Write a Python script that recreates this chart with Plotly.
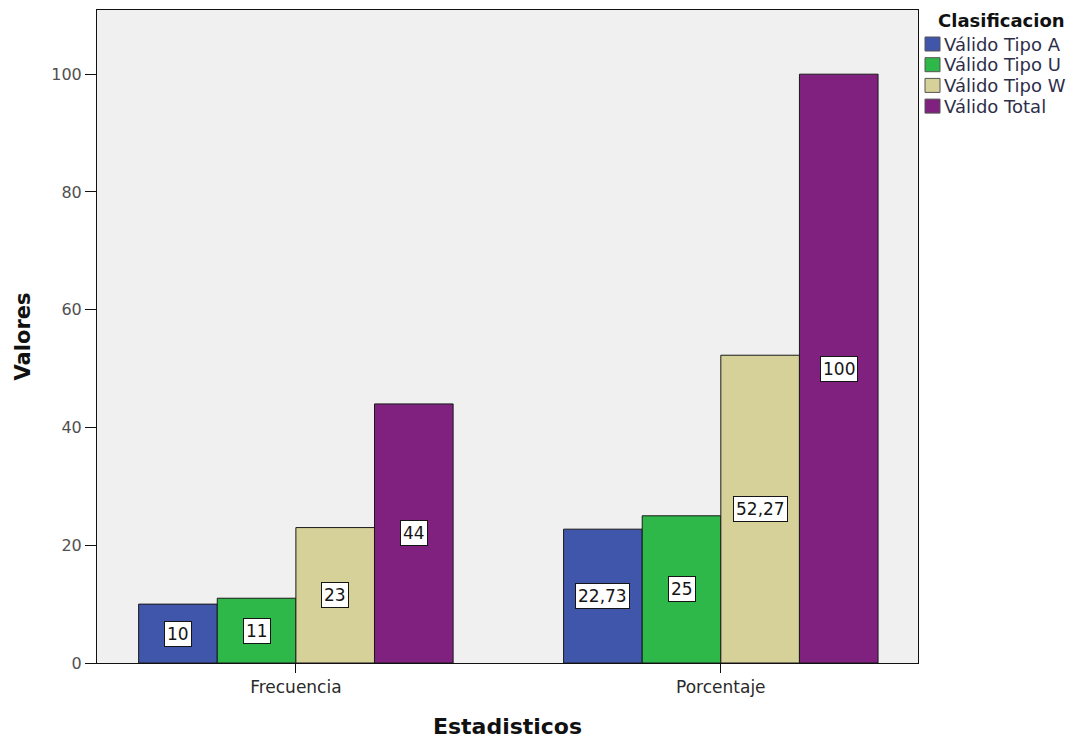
import plotly.graph_objects as go

# Chart data
categories = ["Frecuencia", "Porcentaje"]
series_names = ["Válido Tipo A", "Válido Tipo U", "Válido Tipo W", "Válido Total"]
series_values = [
    [10, 22.73],
    [11, 25],
    [23, 52.27],
    [44, 100],
]
series_colors = ["#3f56ab", "#2fb84a", "#d6d099", "#80217f"]
y_ticks = [0, 20, 40, 60, 80, 100]
legend_title = "Clasificacion"

bar_w = 0.185
n = len(series_names)

# plot-area geometry in pixels (used to place the hand-drawn legend)
W, H = 1075, 740
M_L, M_R, M_T, M_B = 97, 157, 10, 77
plot_w = W - M_L - M_R
plot_h = H - M_T - M_B


def px_x(px):
    return (px - M_L) / plot_w


def px_y(py):
    return (H - M_B - py) / plot_h


def fmt(v):
    s = f"{v:.2f}".rstrip("0").rstrip(".")
    return s.replace(".", ",")


fig = go.Figure()
annotations = []
shapes = []
for i, (name, vals, col) in enumerate(zip(series_names, series_values, series_colors)):
    off = -n * bar_w / 2 + i * bar_w
    fig.add_trace(go.Bar(
        name=name,
        x=list(range(len(categories))),
        y=vals,
        width=bar_w,
        offset=off,
        marker=dict(color=col, line=dict(color="#1a1a1a", width=1)),
        hoverinfo="y+name",
        showlegend=False,
    ))
    # value labels in boxed white tags at mid-height of each bar
    for ci, v in enumerate(vals):
        annotations.append(dict(
            x=ci + off + bar_w / 2, y=v / 2, xref="x", yref="y",
            text=fmt(v), showarrow=False,
            font=dict(family="DejaVu Sans", size=17, color="#151515"),
            bgcolor="white", bordercolor="#151515", borderwidth=1, borderpad=2,
        ))

    # legend entry: colour swatch + label
    row_y = 44 + i * 20.7
    shapes.append(dict(
        type="rect", xref="paper", yref="paper",
        x0=px_x(925), x1=px_x(940), y0=px_y(row_y + 7), y1=px_y(row_y - 7),
        fillcolor=col, line=dict(color="#555555", width=1),
    ))
    annotations.append(dict(
        x=px_x(942), y=px_y(row_y), xref="paper", yref="paper",
        xanchor="left", yanchor="middle", text=name, showarrow=False,
        font=dict(family="DejaVu Sans", size=18, color="#2e2e4a"),
    ))

annotations.append(dict(
    x=px_x(936), y=px_y(21), xref="paper", yref="paper",
    xanchor="left", yanchor="middle", text=f"<b>{legend_title}</b>", showarrow=False,
    font=dict(family="DejaVu Sans", size=18, color="#111111"),
))

fig.update_layout(
    width=W, height=H,
    margin=dict(l=M_L, r=M_R, t=M_T, b=M_B, autoexpand=False),
    paper_bgcolor="white",
    plot_bgcolor="#f0f0f0",
    barmode="overlay",
    annotations=annotations,
    shapes=shapes,
    showlegend=False,
    xaxis=dict(
        range=[-0.468, 1.464],
        tickmode="array", tickvals=list(range(len(categories))), ticktext=categories,
        ticks="outside", ticklen=9, tickcolor="#111111",
        showline=True, linecolor="#111111", linewidth=1, mirror=True,
        showgrid=False, zeroline=False,
        tickfont=dict(family="DejaVu Sans", size=17, color="#2a2a2a"),
        title=dict(text="<b>Estadisticos</b>",
                   font=dict(family="DejaVu Sans", size=22, color="#111111"),
                   standoff=22),
    ),
    yaxis=dict(
        range=[0, 110.9],
        tickmode="array", tickvals=y_ticks,
        ticks="outside", ticklen=11, tickcolor="#111111",
        showline=True, linecolor="#111111", linewidth=1, mirror=True,
        showgrid=False, zeroline=False,
        tickfont=dict(family="DejaVu Sans", size=16, color="#505050"),
        title=dict(text="<b>Valores</b>",
                   font=dict(family="DejaVu Sans", size=21, color="#111111"),
                   standoff=14),
    ),
)

fig.write_html("out.html")
